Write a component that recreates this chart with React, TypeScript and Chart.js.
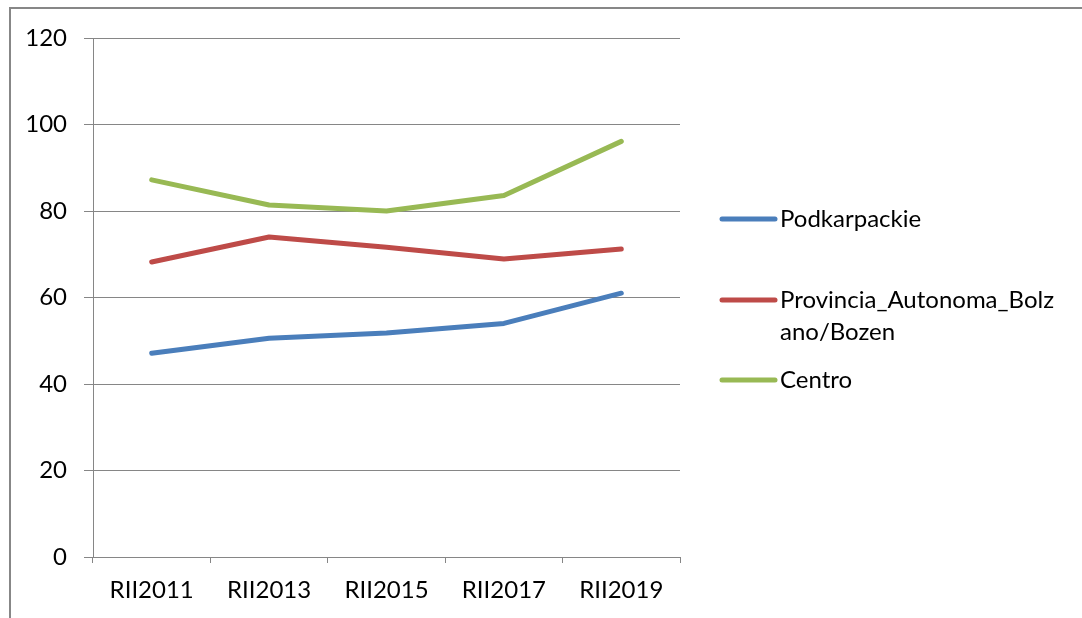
import React, { useEffect, useRef } from "react";
import { Chart, registerables } from "chart.js";

Chart.register(...registerables);

const categories = ["RII2011", "RII2013", "RII2015", "RII2017", "RII2019"];
const podkarpackie = [47.1, 50.6, 51.8, 54.0, 61.0];
const bolzano = [68.2, 74.0, 71.6, 68.9, 71.2];
const centro = [87.2, 81.4, 80.0, 83.6, 96.1];
const seriesNames = ["Podkarpackie", "Provincia_Autonoma_Bolzano/Bozen", "Centro"];
const seriesColors = ["#4A7EBB", "#BE4B48", "#98B954"];
const yTicks = [0, 20, 40, 60, 80, 100, 120];

const FONT = "Lato, 'Open Sans', sans-serif";
const FONT_SIZE = 24;

function wrapText(ctx: CanvasRenderingContext2D, text: string, maxWidth: number): string[] {
  const lines: string[] = [];
  let cur = "";
  for (const ch of text) {
    const test = cur + ch;
    if (ctx.measureText(test).width > maxWidth && cur.length > 0) {
      lines.push(cur);
      cur = ch;
    } else {
      cur = test;
    }
  }
  if (cur) lines.push(cur);
  return lines;
}

const sideLegend = {
  id: "sideLegend",
  afterDraw(chart: any) {
    const ctx = chart.ctx as CanvasRenderingContext2D;
    const itemY = [219, 300, 380];
    const lineX0 = 722;
    const lineX1 = 775;
    const textX = 780;
    const maxW = 278;
    const lineH = 32;
    ctx.save();
    ctx.font = `${FONT_SIZE}px ${FONT}`;
    ctx.textBaseline = "middle";
    ctx.textAlign = "left";
    chart.data.datasets.forEach((ds: any, i: number) => {
      const y = itemY[i];
      ctx.strokeStyle = ds.borderColor;
      ctx.lineWidth = 5;
      ctx.lineCap = "round";
      ctx.beginPath();
      ctx.moveTo(lineX0, y);
      ctx.lineTo(lineX1, y);
      ctx.stroke();
      ctx.fillStyle = "#000";
      const lines = wrapText(ctx, ds.label, maxW);
      lines.forEach((ln, k) => ctx.fillText(ln, textX, y + k * lineH));
    });
    ctx.restore();
  },
};

export default function App() {
  const ref = useRef<HTMLCanvasElement>(null);
  useEffect(() => {
    if (!ref.current) return;
    const data = [podkarpackie, bolzano, centro];
    const chart = new Chart(ref.current, {
      type: "line",
      data: {
        labels: categories,
        datasets: data.map((d, i) => ({
          label: seriesNames[i],
          data: d,
          borderColor: seriesColors[i],
          backgroundColor: seriesColors[i],
          borderWidth: 5,
          borderCapStyle: "round" as const,
          borderJoinStyle: "round" as const,
          pointRadius: 0,
          tension: 0,
          fill: false,
        })),
      },
      options: {
        animation: false,
        responsive: false,
        maintainAspectRatio: false,
        layout: { padding: { left: 10, top: 38, right: 402, bottom: 0 } },
        plugins: {
          legend: { display: false },
          tooltip: { enabled: false },
        },
        scales: {
          x: {
            type: "category",
            offset: true,
            afterFit: (s: any) => {
              s.height = 61;
            },
            grid: {
              offset: true,
              drawOnChartArea: false,
              drawTicks: true,
              tickLength: 6,
              color: "#868686",
              lineWidth: 1,
            },
            border: { display: true, color: "#868686", width: 1 },
            ticks: {
              color: "#000",
              font: { family: FONT, size: FONT_SIZE },
              padding: 13,
              maxRotation: 0,
              autoSkip: false,
            },
          },
          y: {
            min: 0,
            max: 120,
            afterFit: (s: any) => {
              s.width = 83;
            },
            afterBuildTicks: (s: any) => {
              s.ticks = yTicks.map((v) => ({ value: v }));
            },
            grid: {
              color: "#868686",
              lineWidth: 1,
              drawTicks: true,
              tickLength: 9,
            },
            border: { display: true, color: "#868686", width: 1 },
            ticks: {
              color: "#000",
              font: { family: FONT, size: FONT_SIZE },
              padding: 17,
            },
          },
        },
      },
      plugins: [sideLegend],
    });
    return () => chart.destroy();
  }, []);

  return (
    <div
      style={{
        position: "fixed",
        left: 0,
        top: 0,
        width: 1082,
        height: 618,
        overflow: "hidden",
        background: "#fff",
      }}
    >
      <div
        style={{
          position: "absolute",
          left: 9,
          top: 7,
          width: 1200,
          height: 800,
          border: "2px solid #878787",
          boxSizing: "border-box",
        }}
      />
      <canvas
        ref={ref}
        width={1082}
        height={618}
        style={{ position: "absolute", left: 0, top: 0, width: 1082, height: 618 }}
      />
    </div>
  );
}
